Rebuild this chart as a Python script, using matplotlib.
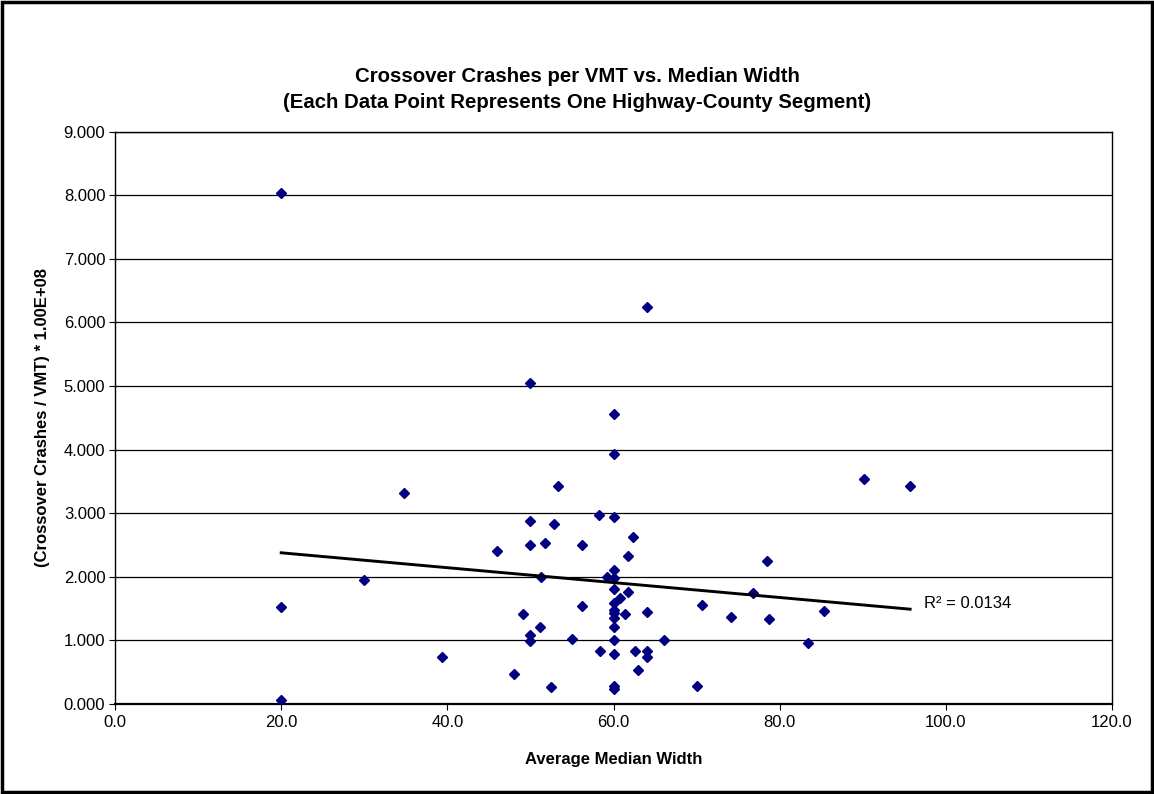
import numpy as np
import matplotlib.pyplot as plt
from matplotlib.patches import Rectangle

plt.rcParams['font.family'] = ['Liberation Sans', 'DejaVu Sans']

# Average median width (ft) and crossover crashes per VMT * 1e8, one per segment
ancho = [20.0, 20.0, 20.0, 30.0, 34.8, 39.3, 46.0, 48.0, 49.1,
         50.0, 50.0, 50.0, 50.0, 50.0, 51.2, 51.3, 51.8, 52.5, 52.8, 53.3,
         55.0, 56.2, 56.2, 58.3, 58.4, 59.2,
         60.0, 60.0, 60.0, 60.0, 60.0, 60.0, 60.0, 60.0, 60.0, 60.0,
         60.0, 60.0, 60.0, 60.0, 60.0,
         60.8, 61.4, 61.7, 61.8, 62.3, 62.6, 63.0,
         64.0, 64.0, 64.0, 64.0, 66.1, 70.1, 70.6, 74.2, 76.8, 78.5, 78.7,
         83.4, 85.3, 90.1, 95.7]
choques = [8.04, 1.52, 0.05, 1.95, 3.31, 0.73, 2.41, 0.46, 1.41,
           5.04, 2.88, 2.50, 1.08, 0.98, 1.20, 2.00, 2.53, 0.26, 2.82, 3.43,
           1.01, 2.49, 1.53, 2.97, 0.82, 1.99,
           4.56, 3.93, 2.94, 2.10, 1.97, 1.81, 1.58, 1.47, 1.42, 1.34,
           1.20, 1.00, 0.78, 0.28, 0.23,
           1.66, 1.41, 2.32, 1.75, 2.62, 0.83, 0.53,
           6.25, 1.44, 0.83, 0.73, 1.00, 0.27, 1.55, 1.36, 1.74, 2.25, 1.33,
           0.95, 1.46, 3.54, 3.42]

x_ticks = [0, 20, 40, 60, 80, 100, 120]
y_ticks = [0, 1, 2, 3, 4, 5, 6, 7, 8, 9]

fig = plt.figure(figsize=(11.54, 7.94), dpi=100)
ax = fig.add_axes([0.0997, 0.1139, 0.8639, 0.7199])

ax.set_axisbelow(True)
ax.yaxis.grid(True, color='black', linewidth=0.9)
ax.plot(ancho, choques, linestyle='none', marker='D', markersize=5.5,
        color='#000080', zorder=3)

# tendencia lineal
m, b = np.polyfit(ancho, choques, 1)
x_fit = np.array([min(ancho), max(ancho)])
ax.plot(x_fit, m * x_fit + b, color='black', linewidth=2.1, zorder=4)
ax.text(97.4, 1.57, 'R² = 0.0134', fontsize=12, va='center', ha='left')

ax.set_xlim(0, 120)
ax.set_ylim(0, 9)
ax.set_xticks(x_ticks)
ax.set_yticks(y_ticks)
ax.set_xticklabels([f'{v:.1f}' for v in x_ticks], fontsize=12)
ax.set_yticklabels([f'{v:.3f}' for v in y_ticks], fontsize=12)
ax.tick_params(direction='out', length=4, width=0.8, pad=3)
ax.tick_params(axis='x', pad=4)
for s in ax.spines.values():
    s.set_color('black')
    s.set_linewidth(1.0)
ax.spines['bottom'].set_linewidth(1.6)

ax.set_xlabel('Average Median Width', fontsize=12, fontweight='bold', labelpad=16)
ax.set_ylabel('(Crossover Crashes / VMT) * 1.00E+08', fontsize=12,
              fontweight='bold', labelpad=10)

fig.text(0.5, 1 - 76 / 794, 'Crossover Crashes per VMT vs. Median Width',
         ha='center', va='center', fontsize=14.7, fontweight='bold')
fig.text(0.5, 1 - 102 / 794, '(Each Data Point Represents One Highway-County Segment)',
         ha='center', va='center', fontsize=14.7, fontweight='bold')

fig.patches.append(Rectangle((0.002, 0.002), 0.996, 0.996, transform=fig.transFigure,
                             fill=False, edgecolor='black', linewidth=2.5))

plt.savefig('out.png', dpi=100)
